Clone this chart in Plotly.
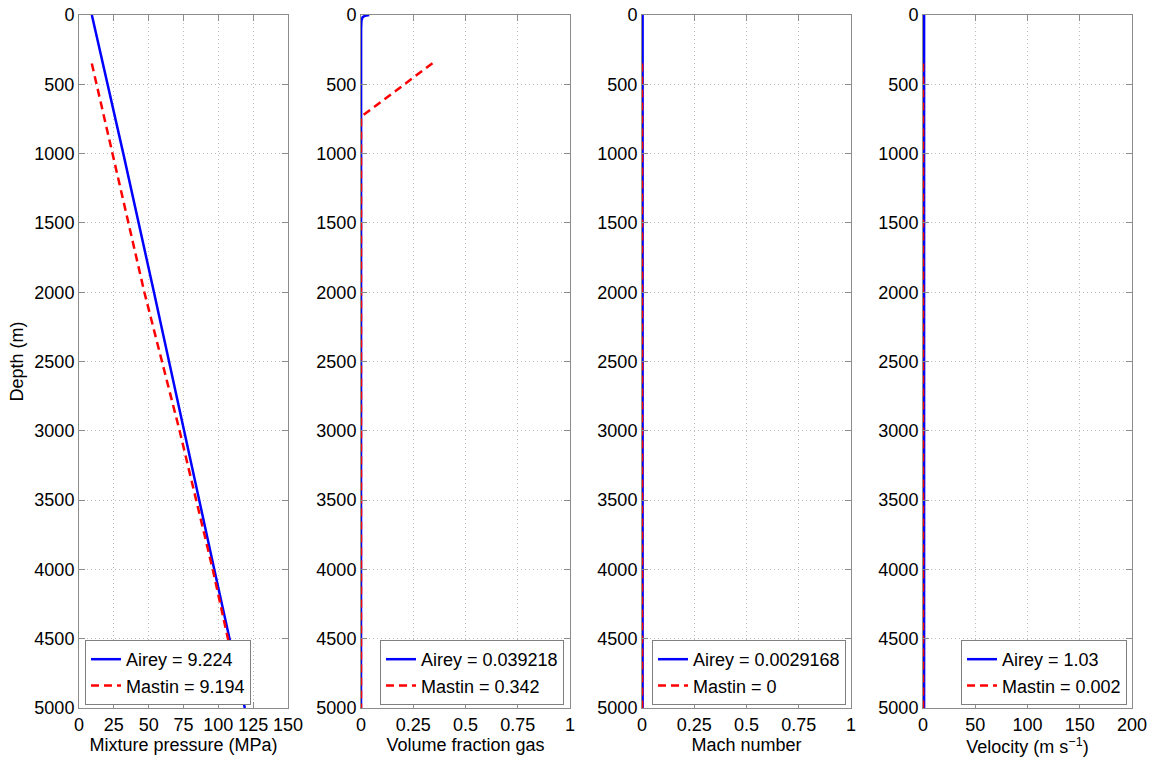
import plotly.graph_objects as go

# ---------------- data ----------------
depth_airey_p = [0, 1000, 2000, 3000, 4000, 5000]
airey_pressure = [9.224, 31.8, 53.8, 75.2, 97.1, 119.0]
depth_mastin_p = [350, 1000, 2000, 3000, 4000, 5000]
mastin_pressure = [9.194, 23.9, 46.9, 72.2, 96.0, 117.8]

depth_airey_gas = [0, 5, 15, 40, 100, 5000]
airey_gas = [0.039218, 0.02, 0.008, 0.002, 0.0005, 0.0]
depth_mastin_gas = [348, 735, 5000]
mastin_gas = [0.342, 0.0, 0.0]

depth_airey_mach = [0, 5000]
airey_mach = [0.0029168, 0.0029168]
depth_mastin_mach = [350, 5000]
mastin_mach = [0.0, 0.0]

depth_airey_vel = [0, 5000]
airey_vel = [1.03, 1.03]
depth_mastin_vel = [350, 5000]
mastin_vel = [0.002, 0.002]

legend_airey = ["Airey = 9.224", "Airey = 0.039218", "Airey = 0.0029168", "Airey = 1.03"]
legend_mastin = ["Mastin = 9.194", "Mastin = 0.342", "Mastin = 0", "Mastin = 0.002"]

x_titles = ["Mixture pressure (MPa)", "Volume fraction gas", "Mach number",
            "Velocity (m s<sup>\u22121</sup>)"]
x_ranges = [[0, 150], [0, 1], [0, 1], [0, 200]]
x_tickvals = [[0, 25, 50, 75, 100, 125, 150],
              [0, 0.25, 0.5, 0.75, 1],
              [0, 0.25, 0.5, 0.75, 1],
              [0, 50, 100, 150, 200]]
x_ticktext = [["0", "25", "50", "75", "100", "125", "150"],
              ["0", "0.25", "0.5", "0.75", "1"],
              ["0", "0.25", "0.5", "0.75", "1"],
              ["0", "50", "100", "150", "200"]]
y_ticks = list(range(0, 5001, 500))

# ---------------- layout geometry ----------------
W, H = 1154, 760
panels_px = [(79, 288), (361, 570), (642, 851), (923, 1132)]
top_px, bot_px = 15, 708
ydom = [1 - bot_px / H, 1 - top_px / H]

FONT = "Liberation Sans, Arial, Helvetica, sans-serif"
FS = 18
AXC = "#8c8c8c"
GRIDC = "#bdbdbd"

fig = go.Figure()

series = [
    (depth_airey_p, airey_pressure, depth_mastin_p, mastin_pressure),
    (depth_airey_gas, airey_gas, depth_mastin_gas, mastin_gas),
    (depth_airey_mach, airey_mach, depth_mastin_mach, mastin_mach),
    (depth_airey_vel, airey_vel, depth_mastin_vel, mastin_vel),
]

legend_pos = [
    dict(x=85 / W, xanchor="left"),
    dict(x=564 / W, xanchor="right"),
    dict(x=846 / W, xanchor="right"),
    dict(x=1127 / W, xanchor="right"),
]

for i, (da, va, dm, vm) in enumerate(series):
    n = "" if i == 0 else str(i + 1)
    lg = "legend" if i == 0 else f"legend{i + 1}"
    fig.add_trace(go.Scatter(x=va, y=da, mode="lines", name=legend_airey[i],
                             line=dict(color="#0000ff", width=2.5),
                             xaxis="x" + n, yaxis="y" + n, legend=lg))
    fig.add_trace(go.Scatter(x=vm, y=dm, mode="lines", name=legend_mastin[i],
                             line=dict(color="#ff0000", width=2.5, dash="8px,5px"),
                             xaxis="x" + n, yaxis="y" + n, legend=lg))

    x0, x1 = panels_px[i]
    common = dict(showline=True, linecolor=AXC, linewidth=1, mirror="ticks",
                  ticks="inside", ticklen=6, tickcolor=AXC, automargin=False,
                  showgrid=True, gridcolor=GRIDC, griddash="1px,3px", gridwidth=1,
                  zeroline=False, tickfont=dict(family=FONT, size=FS, color="#000"))
    xa = dict(domain=[x0 / W, x1 / W], range=x_ranges[i], anchor="y" + n,
              tickmode="array", tickvals=x_tickvals[i], ticktext=x_ticktext[i],
              title=dict(text=x_titles[i], font=dict(family=FONT, size=FS, color="#000"),
                         standoff=2), **common)
    ya = dict(domain=ydom, range=[5000, 0], anchor="x" + n,
              tickmode="array", tickvals=y_ticks, ticktext=[str(v) for v in y_ticks],
              **common)
    if i == 0:
        ya["title"] = dict(text="Depth (m)", font=dict(family=FONT, size=FS, color="#000"),
                           standoff=6)
    fig.layout["xaxis" + n] = xa
    fig.layout["yaxis" + n] = ya

    leg = dict(y=1 - 705 / H, yanchor="bottom", bgcolor="white",
               bordercolor="#7f7f7f", borderwidth=1,
               font=dict(family=FONT, size=FS, color="#000"),
               tracegroupgap=0, itemwidth=30, **legend_pos[i])
    fig.layout[lg] = leg

fig.update_layout(width=W, height=H, margin=dict(l=0, r=0, t=0, b=0, autoexpand=False),
                  paper_bgcolor="white", plot_bgcolor="white", showlegend=True,
                  font=dict(family=FONT, size=FS, color="#000"))

fig.write_html("out.html", config={"displayModeBar": False},
               post_script="document.body.style.margin='0';document.body.style.overflow='hidden';")
